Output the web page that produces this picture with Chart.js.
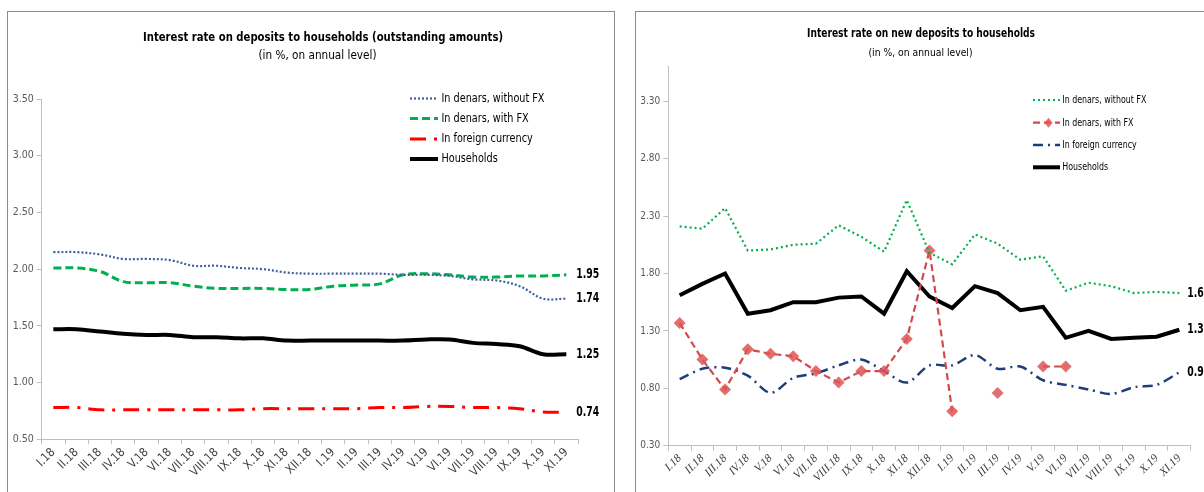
<!DOCTYPE html>
<html><head><meta charset="utf-8">
<script src="https://cdn.jsdelivr.net/npm/chart.js@4.4.1/dist/chart.umd.min.js"></script>
<style>
html,body{margin:0;padding:0;background:#fff;width:1204px;height:492px;overflow:hidden;}
#frameL{position:absolute;left:7px;top:11px;width:608px;height:600px;border:1px solid #8c8c8c;box-sizing:border-box;}
#frameR{position:absolute;left:635px;top:11px;width:600px;height:600px;border:1px solid #8c8c8c;box-sizing:border-box;}
#cL{position:absolute;left:0;top:0;}
#cR{position:absolute;left:620px;top:0;}
</style></head><body>
<div id="frameL"></div><div id="frameR"></div>
<canvas id="cL" width="620" height="492"></canvas>
<canvas id="cR" width="584" height="492"></canvas>
<script>
// ---------- data ----------
const categories = ['I.18','II.18','III.18','IV.18','V.18','VI.18','VII.18','VIII.18','IX.18','X.18','XI.18','XII.18','I.19','II.19','III.19','IV.19','V.19','VI.19','VII.19','VIII.19','IX.19','X.19','XI.19'];

// left chart: outstanding amounts
const outDenNoFx    = [2.15,2.15,2.13,2.09,2.09,2.08,2.03,2.03,2.01,2.00,1.97,1.96,1.96,1.96,1.96,1.95,1.95,1.94,1.91,1.90,1.85,1.74,1.74];
const outDenFx      = [2.01,2.01,1.98,1.89,1.88,1.88,1.85,1.83,1.83,1.83,1.82,1.82,1.85,1.86,1.87,1.95,1.96,1.95,1.93,1.93,1.94,1.94,1.95];
const outForeign    = [0.78,0.78,0.76,0.76,0.76,0.76,0.76,0.76,0.76,0.77,0.77,0.77,0.77,0.77,0.78,0.78,0.79,0.79,0.78,0.78,0.77,0.74,0.74];
const outHouseholds = [1.47,1.47,1.45,1.43,1.42,1.42,1.40,1.40,1.39,1.39,1.37,1.37,1.37,1.37,1.37,1.37,1.38,1.38,1.35,1.34,1.32,1.25,1.25];

// right chart: new deposits
const newDenNoFx    = [2.21,2.19,2.37,2.00,2.01,2.05,2.06,2.22,2.12,1.99,2.44,1.98,1.88,2.14,2.06,1.92,1.95,1.65,1.72,1.69,1.63,1.64,1.63];
const newDenFx      = [1.37,1.05,0.79,1.14,1.10,1.08,0.95,0.85,0.95,0.95,1.23,2.00,0.60,null,0.76,null,0.99,0.99,null,null,null,null,null];
const newForeign    = [0.88,0.97,0.98,0.91,0.76,0.89,0.93,1.00,1.05,0.95,0.85,1.00,1.00,1.09,0.97,0.99,0.87,0.83,0.79,0.75,0.81,0.83,0.94];
const newHouseholds = [1.61,1.71,1.80,1.45,1.48,1.55,1.55,1.59,1.60,1.45,1.82,1.60,1.50,1.69,1.63,1.48,1.51,1.24,1.30,1.23,1.24,1.25,1.31];

const leftYTicks  = [0.50,1.00,1.50,2.00,2.50,3.00,3.50];
const rightYTicks = [0.30,0.80,1.30,1.80,2.30,2.80,3.30];

const leftTitle = 'Interest rate on deposits to households (outstanding amounts)';
const rightTitle = 'Interest rate on new deposits to households';
const subTitle = '(in %, on annual level)';
const seriesNames = ['In denars, without FX','In denars, with FX','In foreign currency','Households'];

// ---------- helpers ----------
const NARROW = "'Liberation Sans Narrow','DejaVu Sans Condensed','Arial Narrow',sans-serif";
Chart.defaults.font.family = NARROW;

function textScale(ctx, text, font, targetW){
  ctx.save(); ctx.font = font; const w = ctx.measureText(text).width; ctx.restore();
  return targetW / w;
}
function drawText(ctx, text, x, y, font, color, sx, align){
  ctx.save(); ctx.font = font; ctx.fillStyle = color; ctx.textBaseline = 'middle';
  ctx.textAlign = align || 'left';
  ctx.translate(x, y); ctx.scale(sx, 1); ctx.fillText(text, 0, 0); ctx.restore();
}
function diamond(ctx, x, y, r, color){
  ctx.save(); ctx.setLineDash([]); ctx.fillStyle = color; ctx.beginPath();
  ctx.moveTo(x, y - r); ctx.lineTo(x + r*0.8, y); ctx.lineTo(x, y + r); ctx.lineTo(x - r*0.8, y); ctx.closePath(); ctx.fill(); ctx.restore();
}

function decorPlugin(cfg){
  return {
    id: 'decor',
    afterDraw(chart){
      const ctx = chart.ctx;
      const tf = 'bold ' + cfg.titleSize + 'px ' + NARROW;
      drawText(ctx, cfg.title, cfg.titleX, cfg.titleY, tf, '#000', textScale(ctx, cfg.title, tf, cfg.titleW), 'center');
      const sf = cfg.subSize + 'px ' + NARROW;
      drawText(ctx, subTitle, cfg.subX, cfg.subY, sf, '#000', textScale(ctx, subTitle, sf, cfg.subW), 'center');
      const lf = cfg.legSize + 'px ' + NARROW;
      const lsx = textScale(ctx, seriesNames[0], lf, cfg.legW);
      chart.data.datasets.forEach((ds, i) => {
        const y = cfg.legY[i];
        ctx.save();
        ctx.strokeStyle = ds.borderColor; ctx.lineWidth = ds.borderWidth;
        ctx.setLineDash(ds.borderDash || []);
        ctx.beginPath(); ctx.moveTo(cfg.legX1, y); ctx.lineTo(cfg.legX2, y); ctx.stroke();
        ctx.restore();
        if (ds.pointRadius) diamond(ctx, (cfg.legX1 + cfg.legX2)/2 + 2, y, ds.pointRadius - 1, ds.pointBackgroundColor);
        drawText(ctx, ds.label, cfg.legTX, y, lf, '#000', lsx, 'left');
      });
      const ef = 'bold ' + cfg.endSize + 'px ' + NARROW;
      const esx = textScale(ctx, '1.95', ef, cfg.endW);
      const xs = chart.scales.x, ys = chart.scales.y;
      cfg.endSeries.forEach(i => {
        const d = chart.data.datasets[i].data;
        let k = d.length - 1; while (k >= 0 && d[k] == null) k--;
        const v = d[k];
        drawText(ctx, v.toFixed(2), xs.getPixelForValue(k) + cfg.endDX, ys.getPixelForValue(v), ef, '#000', esx, 'left');
      });
    }
  };
}

function axisCfg(yTicks, yMin, yMax, yWidth, xHeight, tickSize, xFont){
  return {
    x: {
      offset: true,
      grid: {offset: true, drawOnChartArea: false, drawTicks: true, tickLength: 5, color: '#bfbfbf'},
      border: {color: '#bfbfbf', width: 1},
      ticks: {minRotation: 45, maxRotation: 45, autoSkip: false, font: xFont, color: '#404040', padding: 1},
      afterFit(s){ s.height = xHeight; }
    },
    y: {
      min: yMin, max: yMax,
      afterBuildTicks(s){ s.ticks = yTicks.map(v => ({value: v})); },
      ticks: {callback: v => Number(v).toFixed(2), font: {size: tickSize, family: NARROW}, color: '#595959', padding: 3},
      grid: {drawOnChartArea: false, drawTicks: true, tickLength: 5, color: '#bfbfbf'},
      border: {color: '#bfbfbf', width: 1},
      afterFit(s){ s.width = yWidth; }
    }
  };
}

const common = {responsive: false, animation: false, devicePixelRatio: 1,
  plugins: {legend: {display: false}, tooltip: {enabled: false}, title: {display: false}},
  elements: {point: {radius: 0, hoverRadius: 0}}};

// ---------- left chart ----------
new Chart(document.getElementById('cL'), {
  type: 'line',
  data: {labels: categories, datasets: [
    {label: seriesNames[0], data: outDenNoFx, borderColor: '#3c5f9e', borderWidth: 2.2, borderDash: [2, 2], tension: 0.35, pointRadius: 0},
    {label: seriesNames[1], data: outDenFx, borderColor: '#00b050', borderWidth: 3, borderDash: [8, 4], tension: 0.35, pointRadius: 0},
    {label: seriesNames[2], data: outForeign, borderColor: '#ff0000', borderWidth: 3, borderDash: [16, 8, 3, 8], tension: 0.35, pointRadius: 0},
    {label: seriesNames[3], data: outHouseholds, borderColor: '#000000', borderWidth: 4, tension: 0.35, pointRadius: 0}
  ]},
  options: Object.assign({}, common, {
    layout: {padding: {left: 0, top: 99, right: 42, bottom: 0}},
    scales: axisCfg(leftYTicks, 0.5, 3.5, 41.7, 52.7, 10.5, {size: 12, family: NARROW})
  }),
  plugins: [decorPlugin({
    title: leftTitle, titleX: 323, titleY: 38, titleW: 360, titleSize: 13,
    subX: 317.5, subY: 56, subW: 118, subSize: 12,
    legX1: 410, legX2: 438, legTX: 441.5, legY: [98.5, 118.5, 139, 159], legSize: 12, legW: 103,
    endSeries: [0, 1, 2, 3], endDX: 10, endSize: 14, endW: 23
  })]
});

// ---------- right chart ----------
new Chart(document.getElementById('cR'), {
  type: 'line',
  data: {labels: categories, datasets: [
    {label: seriesNames[0], data: newDenNoFx, borderColor: '#00b050', borderWidth: 2.2, borderDash: [2, 3], tension: 0, pointRadius: 0},
    {label: seriesNames[1], data: newDenFx, borderColor: '#d24b4b', borderWidth: 2.2, borderDash: [7, 4], tension: 0, spanGaps: false,
      pointRadius: 6, pointStyle: 'rectRot', pointBackgroundColor: 'rgba(222,85,85,0.85)', pointBorderColor: 'rgba(222,85,85,0.85)', pointBorderWidth: 0},
    {label: seriesNames[2], data: newForeign, borderColor: '#1f3d7a', borderWidth: 2.5, borderDash: [10, 5, 2, 5], tension: 0.3, pointRadius: 0},
    {label: seriesNames[3], data: newHouseholds, borderColor: '#000000', borderWidth: 4, tension: 0, pointRadius: 0}
  ]},
  options: Object.assign({}, common, {
    layout: {padding: {left: 0, top: 66.9, right: 13.3, bottom: 0}},
    scales: axisCfg(rightYTicks, 0.3, 3.6, 48.3, 46.3, 10, {size: 11.5, family: "'Liberation Serif',serif", style: 'italic'})
  }),
  plugins: [decorPlugin({
    title: rightTitle, titleX: 301, titleY: 34, titleW: 228, titleSize: 12,
    subX: 300.5, subY: 53, subW: 104, subSize: 11,
    legX1: 413, legX2: 440, legTX: 442.3, legY: [100, 122.7, 145, 167.3], legSize: 11, legW: 84,
    endSeries: [0, 2, 3], endDX: 8, endSize: 14, endW: 23
  })]
});
</script></body></html>
